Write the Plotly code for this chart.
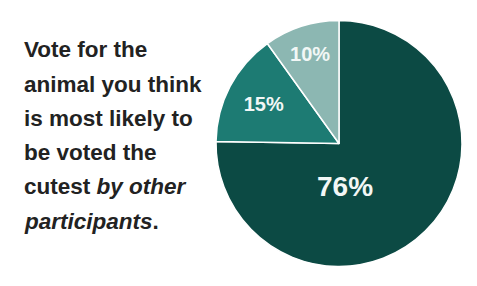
import plotly.graph_objects as go

labels = ["Cutest (76%)", "Second (15%)", "Third (10%)"]
values = [76, 15, 10]
pct_text = ["76%", "15%", "10%"]
colors = ["#0c4a44", "#1d7b73", "#8cb7b2"]
text_sizes = [28, 20, 20]

title_lines = [
    "Vote for the",
    "animal you think",
    "is most likely to",
    "be voted the",
    "cutest <i>by other</i>",
    "<i>participants</i>.",
]

W, H = 477, 286
FONT = "Liberation Sans, Arial, sans-serif"
inside_text = ["" if i == 0 else t for i, t in enumerate(pct_text)]

fig = go.Figure()
fig.add_trace(go.Pie(
    labels=labels,
    values=values,
    text=inside_text,
    textinfo="text",
    textposition="inside",
    insidetextorientation="horizontal",
    sort=False,
    direction="clockwise",
    rotation=0,
    marker=dict(colors=colors, line=dict(color="white", width=1.5)),
    textfont=dict(family=FONT, size=text_sizes, color="#f2f7f6", weight="bold"),
    domain=dict(x=[216 / W, 462 / W], y=[(H - 268) / H, (H - 19) / H]),
    showlegend=False,
    hoverinfo="label+value",
))

# label of the large slice, placed low in the slice as in the original
fig.add_annotation(
    text="<b>" + pct_text[0] + "</b>",
    x=345 / W, y=1 - 186 / H, xref="paper", yref="paper",
    xanchor="center", yanchor="middle", showarrow=False,
    font=dict(family=FONT, size=text_sizes[0], color="#f2f7f6"),
)

top = 50
step = 34.2
for i, line in enumerate(title_lines):
    fig.add_annotation(
        text="<b>" + line + "</b>",
        x=22 / W, y=1 - (top + i * step) / H,
        xref="paper", yref="paper",
        xanchor="left", yanchor="middle",
        showarrow=False,
        align="left",
        font=dict(family=FONT, size=22.5, color="#222222"),
    )

fig.update_layout(
    width=W, height=H,
    margin=dict(l=0, r=0, t=0, b=0),
    paper_bgcolor="white",
    plot_bgcolor="white",
)
fig.write_html("out.html")
